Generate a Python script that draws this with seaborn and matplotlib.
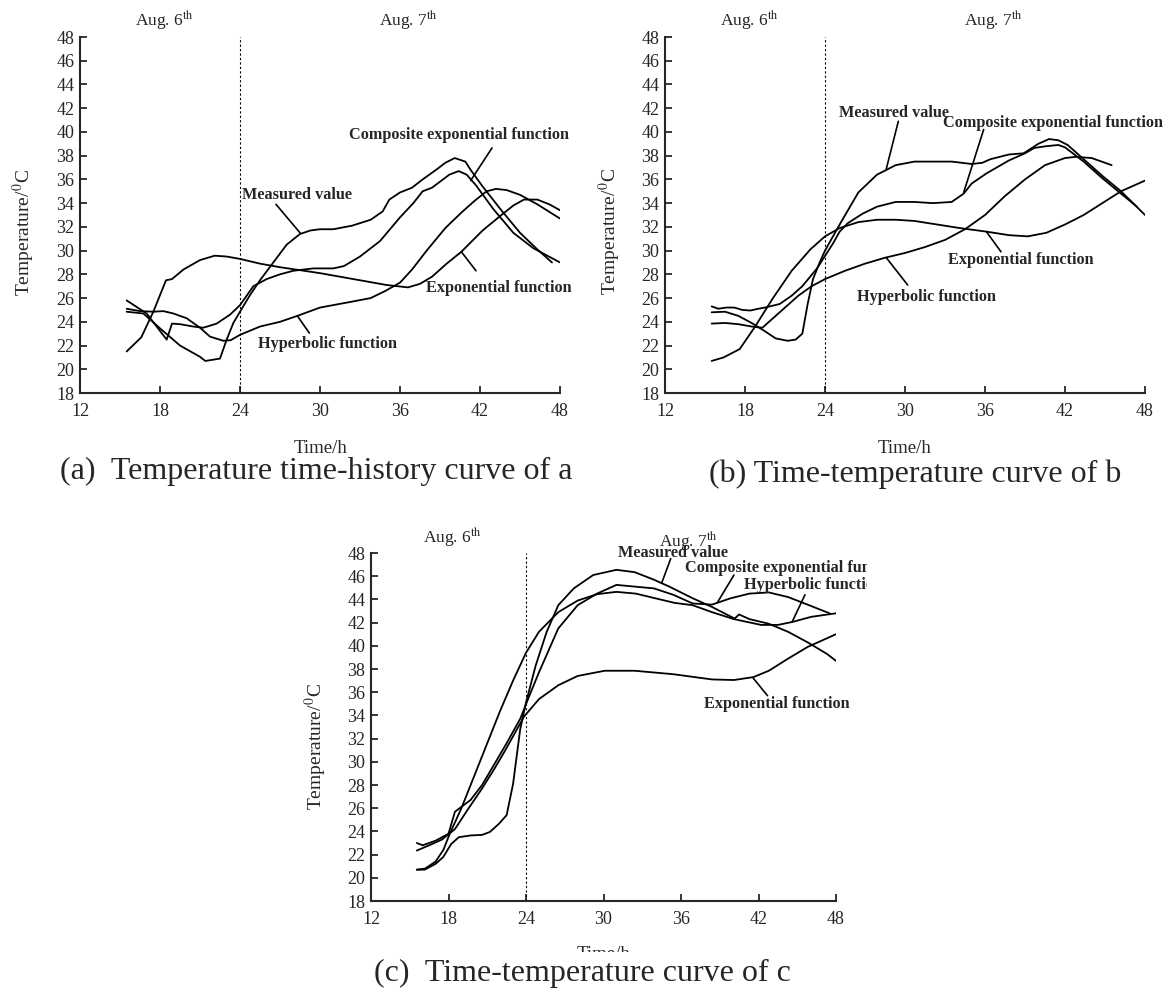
import matplotlib
matplotlib.use("Agg")
import matplotlib.pyplot as plt
import seaborn as sns
from matplotlib.patches import Rectangle
from matplotlib.transforms import Bbox, TransformedBbox

# ---- panel (a) ----
a_meas_t = [15.5, 16.75, 18.0, 19.5, 21.0, 21.4, 22.5, 23.0, 23.5, 24.0, 24.75, 25.5, 26.5, 27.5, 28.5, 29.3,
            30.0, 31.0, 32.4, 33.8, 34.7, 35.2, 36.0, 36.9, 37.7, 38.7, 39.4, 40.1, 40.9, 41.3, 42.2, 43.6,
            45.0, 46.3, 47.4]
a_meas_T = [24.85, 24.7, 23.45, 22.0, 21.05, 20.7, 20.9, 22.5, 23.9, 24.85, 26.25, 27.5, 29.0, 30.5, 31.4, 31.7,
            31.8, 31.8, 32.1, 32.6, 33.3, 34.3, 34.9, 35.3, 36.0, 36.8, 37.4, 37.8, 37.5, 36.8, 35.4, 33.4,
            31.5, 30.1, 29.0]
a_comp_t = [15.5, 17.0, 18.5, 18.9, 19.5, 20.5, 21.25, 22.25, 23.25, 24.0, 25.0, 26.0, 27.0, 28.0, 29.5, 31.0,
            31.8, 33.0, 34.5, 36.0, 37.0, 37.7, 38.4, 39.7, 40.4, 41.0, 41.7, 43.0, 44.5, 46.0, 48.0]
a_comp_T = [25.8, 24.7, 22.5, 23.85, 23.8, 23.6, 23.5, 23.85, 24.6, 25.4, 27.0, 27.6, 28.0, 28.3, 28.5, 28.5,
            28.7, 29.5, 30.8, 32.8, 34.0, 35.0, 35.3, 36.4, 36.7, 36.4, 35.5, 33.5, 31.5, 30.2, 29.0]
a_hyp_t = [15.5, 16.5, 17.5, 18.25, 19.0, 20.0, 21.0, 21.75, 22.75, 23.3, 24.0, 25.5, 27.0, 28.3, 30.0, 32.4,
           33.8, 34.9, 36.0, 36.9, 38.0, 39.4, 40.6, 41.6, 42.5, 43.2, 44.0, 45.0, 46.3, 48.0]
a_hyp_T = [25.1, 24.9, 24.85, 24.9, 24.7, 24.3, 23.5, 22.75, 22.4, 22.45, 22.9, 23.6, 24.0, 24.5, 25.2, 25.7,
           26.0, 26.6, 27.3, 28.4, 30.0, 31.9, 33.2, 34.2, 35.0, 35.2, 35.1, 34.7, 33.9, 32.7]
a_exp_t = [15.5, 16.6, 17.5, 18.45, 18.9, 19.75, 21.0, 22.1, 23.0, 24.0, 25.5, 27.0, 30.0, 33.0, 35.0, 36.6,
           37.5, 38.4, 39.5, 40.6, 42.2, 43.5, 44.5, 45.3, 46.3, 47.2, 48.0]
a_exp_T = [21.5, 22.7, 24.85, 27.5, 27.6, 28.4, 29.2, 29.57, 29.5, 29.3, 28.9, 28.6, 28.1, 27.5, 27.1, 26.9,
           27.2, 27.8, 28.9, 29.9, 31.7, 32.9, 33.8, 34.3, 34.3, 33.9, 33.4]

# ---- panel (b) ----
b_meas_t = [15.5, 16.5, 17.5, 18.5, 19.5, 20.3, 21.2, 21.8, 22.3, 22.7, 23.1, 23.6, 24.0, 25.1, 26.5, 27.9,
            29.3, 30.7, 32.1, 33.5, 35.0, 35.8, 36.4, 37.8, 38.9, 40.0, 40.8, 41.5, 42.2, 43.4, 44.8, 46.2, 48.0]
b_meas_T = [24.8, 24.85, 24.5, 23.9, 23.2, 22.6, 22.4, 22.5, 23.0, 25.5, 27.6, 29.0, 30.0, 32.2, 34.9, 36.4,
            37.2, 37.5, 37.5, 37.5, 37.3, 37.4, 37.7, 38.1, 38.2, 39.0, 39.4, 39.3, 38.9, 37.7, 36.3, 35.0, 33.0]
b_comp_t = [15.5, 16.0, 16.6, 17.2, 17.8, 18.4, 19.0, 19.5, 20.6, 21.5, 22.3, 23.4, 24.6, 25.1, 25.7, 26.8,
            27.9, 29.3, 30.7, 32.1, 33.5, 34.4, 35.0, 36.1, 37.8, 39.0, 39.7, 40.6, 41.5, 42.0, 43.4, 44.8,
            46.2, 47.4]
b_comp_T = [25.3, 25.1, 25.2, 25.2, 25.0, 24.95, 25.1, 25.2, 25.5, 26.2, 27.0, 28.5, 30.6, 31.6, 32.3, 33.1,
            33.7, 34.1, 34.1, 34.0, 34.1, 34.8, 35.65, 36.5, 37.6, 38.2, 38.65, 38.8, 38.9, 38.7, 37.5, 36.1,
            34.8, 33.7]
b_hyp_t = [15.5, 16.5, 17.5, 18.5, 19.3, 20.0, 21.0, 22.0, 23.0, 24.0, 25.5, 27.0, 28.5, 30.0, 31.5, 33.0,
           34.5, 36.0, 37.5, 39.0, 40.5, 42.0, 42.8, 44.0, 45.5]
b_hyp_T = [23.85, 23.9, 23.8, 23.6, 23.5, 24.2, 25.2, 26.2, 27.0, 27.6, 28.3, 28.9, 29.4, 29.8, 30.3, 30.9,
           31.8, 33.0, 34.6, 36.0, 37.2, 37.8, 37.9, 37.8, 37.2]
b_exp_t = [15.5, 16.4, 17.6, 18.7, 20.1, 21.5, 22.9, 24.0, 25.1, 26.5, 27.9, 29.3, 30.7, 32.4, 34.1, 36.1,
           37.8, 39.2, 40.6, 42.0, 43.4, 44.8, 46.2, 48.0]
b_exp_T = [20.7, 21.0, 21.7, 23.5, 26.0, 28.3, 30.1, 31.2, 31.9, 32.4, 32.6, 32.6, 32.5, 32.2, 31.9, 31.6,
           31.3, 31.2, 31.5, 32.2, 33.0, 34.0, 35.0, 35.9]

# ---- panel (c) ----
c_meas_t = [15.55, 16.15, 17.0, 17.6, 18.2, 18.8, 19.7, 20.6, 21.2, 21.9, 22.5, 23.0, 23.55, 24.0, 24.75, 25.6,
            26.5, 27.7, 29.2, 31.0, 32.4, 33.9, 35.1, 36.9, 38.4, 40.15, 40.5, 41.3, 42.8, 44.3, 45.8, 47.3, 48.0]
c_meas_T = [20.7, 20.7, 21.2, 21.8, 22.9, 23.5, 23.65, 23.7, 23.95, 24.65, 25.4, 28.1, 32.8, 35.1, 38.3, 41.2,
            43.5, 44.95, 46.1, 46.55, 46.35, 45.7, 45.1, 44.1, 43.35, 42.35, 42.7, 42.3, 41.9, 41.2, 40.3, 39.3, 38.7]
c_comp_t = [15.55, 16.0, 17.0, 18.0, 18.5, 19.7, 20.6, 21.5, 22.5, 23.55, 24.3, 25.0, 26.5, 28.0, 29.5, 31.0,
            33.9, 35.4, 36.9, 38.4, 39.85, 41.3, 42.8, 44.3, 45.8, 47.5]
c_comp_T = [23.0, 22.8, 23.2, 23.8, 25.7, 26.7, 28.0, 29.7, 31.6, 33.7, 35.8, 37.7, 41.5, 43.5, 44.5, 45.25,
            44.95, 44.4, 43.65, 43.55, 44.1, 44.5, 44.6, 44.2, 43.55, 42.8]
c_hyp_t = [15.55, 16.2, 17.0, 17.6, 18.1, 19.0, 20.0, 21.0, 22.0, 23.0, 24.0, 25.0, 26.5, 28.0, 29.5, 31.0,
           32.5, 34.0, 35.5, 36.9, 38.4, 40.1, 42.2, 43.5, 44.6, 46.1, 48.0]
c_hyp_T = [20.7, 20.8, 21.4, 22.4, 23.8, 26.0, 28.8, 31.6, 34.4, 37.0, 39.4, 41.2, 42.9, 43.9, 44.45, 44.65,
           44.5, 44.1, 43.7, 43.5, 42.9, 42.3, 41.8, 41.8, 42.05, 42.5, 42.8]
c_exp_t = [15.55, 16.5, 17.5, 18.5, 19.5, 20.6, 21.5, 22.4, 23.2, 23.85, 25.0, 26.5, 28.0, 30.1, 32.4, 35.4,
           38.4, 40.1, 41.6, 42.8, 44.3, 45.8, 48.0]
c_exp_T = [22.35, 22.8, 23.3, 24.2, 25.9, 27.7, 29.3, 31.0, 32.6, 33.9, 35.4, 36.6, 37.4, 37.85, 37.85, 37.55,
           37.1, 37.05, 37.3, 37.85, 38.9, 39.9, 41.0]

names = ["Measured value", "Composite exponential function", "Exponential function", "Hyperbolic function"]
captions = ["(a)  Temperature time-history curve of a", "(b) Time-temperature curve of b",
            "(c)  Time-temperature curve of c"]

sns.set_style("ticks")
plt.rcParams["font.family"] = ["Liberation Serif", "DejaVu Serif"]
plt.rcParams["mathtext.fontset"] = "stix"

fig = plt.figure(figsize=(11.65, 9.91), dpi=100)
ax_a = fig.add_axes([80 / 1165, 1 - 393 / 991, 480 / 1165, 356 / 991])
ax_b = fig.add_axes([665 / 1165, 1 - 393 / 991, 480 / 1165, 356 / 991])
ax_c = fig.add_axes([371 / 1165, 1 - 901 / 991, 465 / 1165, 348 / 991])


def setup(ax, ylab_pos, aug7_y):
    ax.set_xlim(12, 48)
    ax.set_ylim(18, 48)
    ax.set_xticks(range(12, 49, 6))
    ax.set_yticks(range(18, 49, 2))
    sns.despine(ax=ax)
    for s in ["left", "bottom"]:
        ax.spines[s].set_linewidth(1.5)
    ax.tick_params(axis="both", direction="in", length=5, width=1.3, labelsize=13)
    ax.tick_params(axis="x", pad=7)
    ax.tick_params(axis="y", pad=4)
    ax.set_xlabel("")
    ax.set_ylabel("")
    ax.axvline(24, color="black", lw=0.8, ls=(0, (2, 2)))
    ax.text(ylab_pos[0], ylab_pos[1], "Temperature/$^{0}$C", rotation=90, transform=ax.transAxes,
            ha="center", va="center", fontsize=14)
    ax.text(0.5, -0.155, "Time/h", transform=ax.transAxes, ha="center", va="center", fontsize=13.5)
    ax.text(18.3, 49.4, r"Aug. 6$^{\mathrm{th}}$", ha="center", va="center", fontsize=12.5)
    ax.text(36.6, aug7_y, r"Aug. 7$^{\mathrm{th}}$", ha="center", va="center", fontsize=12.5)


def curves(ax, series):
    for t, T in series:
        sns.lineplot(x=t, y=T, ax=ax, color="black", lw=1.3, sort=False, estimator=None)


def note(ax, text, pos, start, end, ha="center", clip=None):
    txt = ax.text(pos[0], pos[1], text, ha=ha, va="center", fontsize=11.7, fontweight="bold")
    if clip is not None:
        txt.set_clip_box(clip)
        txt.set_clip_on(True)
    ax.annotate("", xy=end, xytext=start,
                arrowprops=dict(arrowstyle="-", lw=1.2, color="black", shrinkA=0, shrinkB=0))


# panel a
curves(ax_a, [(a_meas_t, a_meas_T), (a_comp_t, a_comp_T), (a_hyp_t, a_hyp_T), (a_exp_t, a_exp_T)])
setup(ax_a, (-0.116, 0.45), 49.4)
note(ax_a, names[0], (28.26, 34.7), (26.7, 33.9), (28.5, 31.5))
note(ax_a, names[1], (40.4, 39.7), (42.9, 38.65), (41.3, 35.9))
note(ax_a, names[2], (43.4, 26.85), (41.7, 28.3), (40.6, 29.9))
note(ax_a, names[3], (30.6, 22.1), (29.2, 23.05), (28.3, 24.5))

# panel b
curves(ax_b, [(b_meas_t, b_meas_T), (b_comp_t, b_comp_T), (b_hyp_t, b_hyp_T), (b_exp_t, b_exp_T)])
setup(ax_b, (-0.114, 0.453), 49.4)
note(ax_b, names[0], (29.2, 41.6), (29.5, 40.9), (28.6, 36.9))
note(ax_b, names[1], (32.85, 40.75), (35.9, 40.2), (34.4, 34.9), ha="left")
note(ax_b, names[2], (38.7, 29.2), (37.2, 29.9), (36.1, 31.6))
note(ax_b, names[3], (31.6, 26.1), (30.2, 27.1), (28.6, 29.4))

# panel c
clip_c = TransformedBbox(Bbox([[0, 0], [867 / 1165, 1]]), fig.transFigure)
curves(ax_c, [(c_meas_t, c_meas_T), (c_comp_t, c_comp_T), (c_hyp_t, c_hyp_T), (c_exp_t, c_exp_T)])
setup(ax_c, (-0.119, 0.444), 49.0)
note(ax_c, names[0], (35.4, 48.0), (35.2, 47.5), (34.5, 45.4))
note(ax_c, names[1], (36.3, 46.7), (40.1, 46.1), (38.8, 43.7), ha="left", clip=clip_c)
note(ax_c, names[3], (40.9, 45.2), (45.6, 44.4), (44.6, 42.05), ha="left", clip=clip_c)
note(ax_c, names[2], (43.4, 35.0), (42.7, 35.7), (41.6, 37.2))

# the scanned captions cover the bottom of the "Time/h" labels in (b) and (c)
fig.add_artist(Rectangle((860 / 1165, 1 - 470 / 991), 110 / 1165, 11 / 991, transform=fig.transFigure,
                         facecolor="white", edgecolor="none", zorder=5))
fig.add_artist(Rectangle((550 / 1165, 1 - 962 / 991), 110 / 1165, 10 / 991, transform=fig.transFigure,
                         facecolor="white", edgecolor="none", zorder=5))

fig.text(316 / 1165, 1 - 471 / 991, captions[0], ha="center", va="center", fontsize=23, zorder=6)
fig.text(915 / 1165, 1 - 474 / 991, captions[1], ha="center", va="center", fontsize=23, zorder=6)
fig.text(582 / 1165, 1 - 973 / 991, captions[2], ha="center", va="center", fontsize=23, zorder=6)

fig.savefig("out.png", dpi=100)
